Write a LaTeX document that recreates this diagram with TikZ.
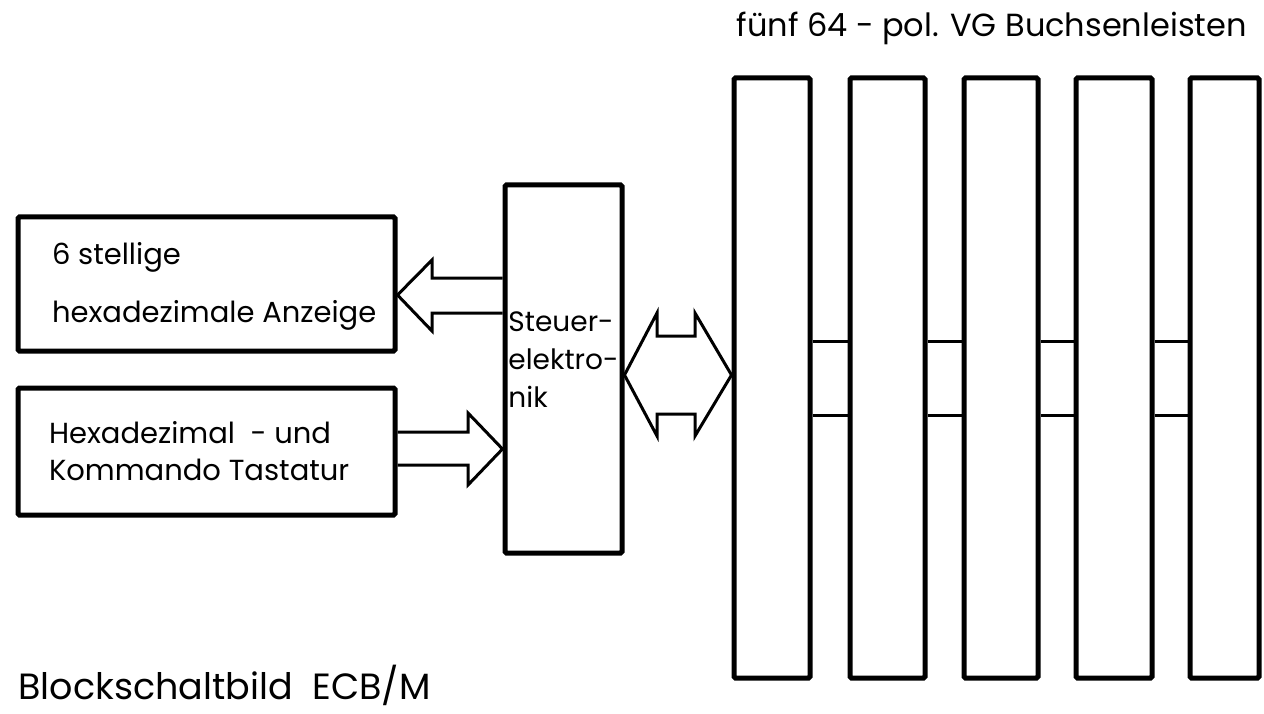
\documentclass[tikz,border=0pt]{standalone}
\usepackage{fontspec}
\setmainfont{Poppins}
\usetikzlibrary{calc}
\tikzset{
  blk/.style={rectangle, draw=black, line width=5pt, rounded corners=1.5pt, inner sep=0pt},
  blktext/.style={align=left, font=\fontsize{29}{58}\selectfont},
  bus/.style={draw=black, line width=3pt, line join=miter},
  link/.style={draw=black, line width=3pt}
}
\begin{document}
\begin{tikzpicture}[x=1pt, y=-1pt]
  \useasboundingbox (0,0) rectangle (1264,714);

  % Bedienteil
  \node[blk, minimum width=377pt, minimum height=134pt] (anz) at (206.5,284) {};
  \node[blktext, anchor=west] (anzlbl) at ($(anz.west)+(33,2)$) {6 stellige\\hexadezimale Anzeige};
  \node[blk, minimum width=377pt, minimum height=127pt] (tast) at (206.5,451.5) {};
  \node[blktext, font=\fontsize{29}{37}\selectfont, anchor=west] (tastlbl) at ($(tast.west)+(30,0)$) {Hexadezimal~ - und\\Kommando Tastatur};
  \node[blk, minimum width=117pt, minimum height=368pt] (steuer) at (563.5,369) {};
  \node[blktext, font=\fontsize{28}{38}\selectfont] (steuerlbl) at ($(steuer)+(0,-9)$) {Steuer-\\elektro-\\nik};

  % Buchsenleisten
  \foreach \n/\x/\w in {1/772/76, 2/887.5/75, 3/1001/74, 4/1114/76, 5/1224.5/69}
    \node[blk, minimum width=\w pt, minimum height=600pt] (bar\n) at (\x,378) {};
  \coordinate (hi) at (0,341);
  \coordinate (lo) at (0,415);
  \foreach \a/\b in {1/2, 2/3, 3/4, 4/5} {
    \draw[link] (bar\a.east |- hi) -- (bar\b.west |- hi);
    \draw[link] (bar\a.east |- lo) -- (bar\b.west |- lo);
  }

  % Busse
  \draw[bus] (steuer.west |- 0,278) -- (432,278) -- (432,260) -- (anz.east |- 0,295)
    -- (432,331) -- (432,313) -- (steuer.west |- 0,313);
  \draw[bus] (tast.east |- 0,432) -- (468,432) -- (468,413) -- (steuer.west |- 0,449)
    -- (468,485) -- (468,465) -- (tast.east |- 0,465);
  \draw[bus] (steuer.east |- 0,375) -- (657,313) -- (657,336) -- (695,336) -- (695,313)
    -- (bar1.west |- 0,375) -- (695,436) -- (695,414) -- (657,414) -- (657,436) -- cycle;

  % Beschriftung
  \node[anchor=base west, font=\fontsize{32}{36}\selectfont] (titel) at (733,37) {fünf 64 - pol. VG Buchsenleisten};
  \node[anchor=base west, font=\fontsize{36.5}{44}\selectfont] (unter) at (15,699) {Blockschaltbild~ ECB/M};
\end{tikzpicture}
\end{document}
